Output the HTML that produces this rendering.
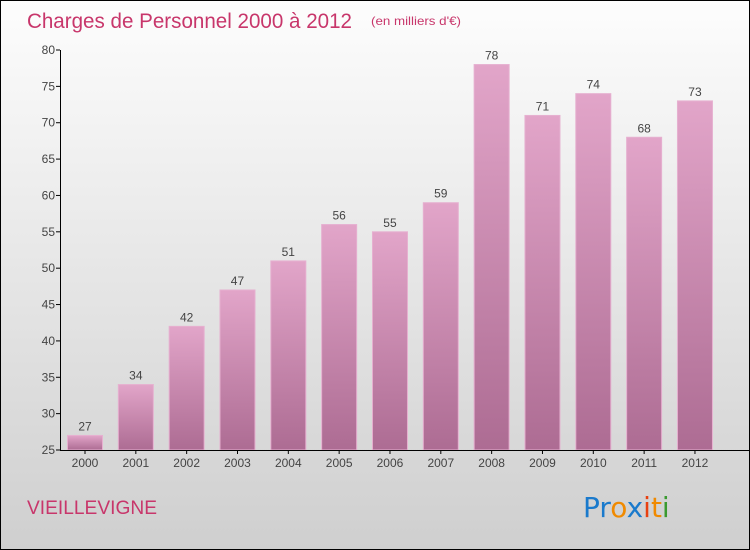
<!DOCTYPE html>
<html><head><meta charset="utf-8"><style>
body{margin:0}
#c{position:relative;width:748px;height:548px;border:1px solid #000;background:linear-gradient(#fdfdfd,#cfcfcf);font-family:"Liberation Sans",sans-serif;overflow:hidden}
</style></head><body>
<div id="c">
<svg width="748" height="548" id="s">
<defs><linearGradient id="g" x1="0" y1="0" x2="0" y2="1"><stop offset="0" stop-color="#e2a5c9"/><stop offset="1" stop-color="#ad6c93"/></linearGradient></defs>
<text x="26" y="27" font-size="21" fill="#c8366b" textLength="325" lengthAdjust="spacingAndGlyphs">Charges de Personnel 2000 à 2012</text>
<text x="370" y="24" font-size="12" fill="#c8366b" textLength="90" lengthAdjust="spacingAndGlyphs">(en milliers d'€)</text>
<text x="26" y="513" font-size="19" fill="#c8366b" textLength="130" lengthAdjust="spacingAndGlyphs">VIEILLEVIGNE</text>
<g font-size="28" font-family="'DejaVu Sans',sans-serif">
<text x="582" y="516"><tspan fill="#1a7acc">Pr</tspan><tspan fill="#f08a00">o</tspan><tspan fill="#1a7acc">x</tspan><tspan fill="#e84010">i</tspan><tspan fill="#f08a00">t</tspan><tspan fill="#3a9a30">i</tspan></text></g>
</svg></div>
<script>
const years=["2000","2001","2002","2003","2004","2005","2006","2007","2008","2009","2010","2011","2012"];
const values=[27,34,42,47,51,56,55,59,78,71,74,68,73];
const yTicks=[25,30,35,40,45,50,55,60,65,70,75,80];
const s=document.getElementById('s'),NS='http://www.w3.org/2000/svg';
const y=v=>449-(v-25)*400/55, x=i=>84+i*50.83;
function mk(t,a){const e=document.createElementNS(NS,t);for(const k in a)e.setAttribute(k,a[k]);s.appendChild(e);return e;}
yTicks.forEach(t=>{
 const l=mk('line',{x1:55,x2:59,y1:y(t),y2:y(t),stroke:'#000'});
 
 
 const tx=mk('text',{x:54,y:y(t)+4,'text-anchor':'end','font-size':12,fill:'#444'});tx.textContent=t;
 
 
});
values.forEach((v,i)=>{
 const r=mk('rect',{x:x(i)-17.5,y:y(v),width:35,height:y(25)-y(v),fill:'url(#g)',stroke:'#e6b0d0','stroke-width':1});
 
 
 const t=mk('text',{x:x(i),y:y(v)-5,'text-anchor':'middle','font-size':12,fill:'#444'});t.textContent=v;
 
 
 const xl=mk('text',{x:x(i),y:466,'text-anchor':'middle','font-size':12,fill:'#444'});xl.textContent=years[i];
 
 
 const tk=mk('line',{x1:x(i),x2:x(i),y1:449,y2:453,stroke:'#000'});
 
 
});
const ya=mk('line',{x1:59.5,x2:59.5,y1:y(80),y2:450,stroke:'#000'});


const xa=mk('line',{x1:59,x2:748,y1:449.5,y2:449.5,stroke:'#000'});


</script>
</body></html>
